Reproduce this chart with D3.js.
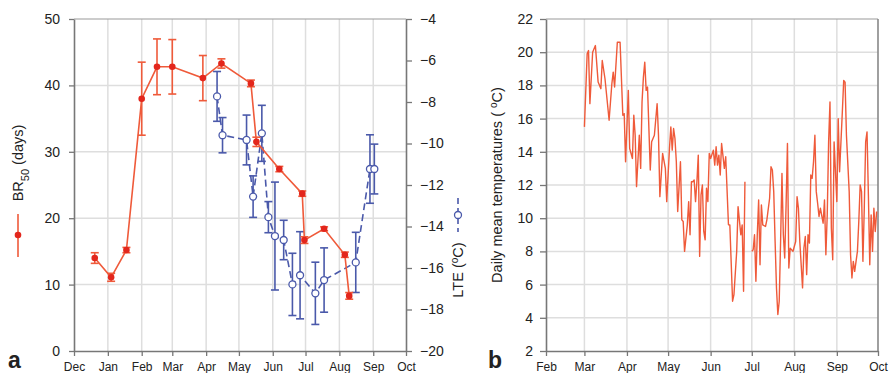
<!DOCTYPE html>
<html><head><meta charset="utf-8">
<script src="https://cdn.jsdelivr.net/npm/d3@7"></script>
<style>
body{margin:0;background:#fff}
svg{display:block}
text{font-family:"Liberation Sans",Arial,sans-serif;fill:#222}
</style>
</head><body>
<svg id="c" width="893" height="373"></svg>
<script>
// ---------- Panel a data ----------
const monthsA = ["Dec","Jan","Feb","Mar","Apr","May","Jun","Jul","Aug","Sep","Oct"];
const brDates = ["2010-12-20","2011-01-04","2011-01-18","2011-02-01","2011-02-15","2011-03-01","2011-03-29","2011-04-15","2011-05-12","2011-05-17","2011-06-07","2011-06-28","2011-06-30","2011-07-18","2011-08-06","2011-08-10"];
const brValues = [14.0,11.1,15.2,38.0,42.8,42.8,41.1,43.3,40.3,31.5,27.4,23.7,16.7,18.4,14.5,8.3];
const brErrors = [0.8,0.6,0.4,5.5,4.2,4.1,3.4,0.7,0.5,0.7,0.4,0.4,0.5,0.3,0.4,0.5];
const lteDates = ["2011-04-11","2011-04-16","2011-05-08","2011-05-14","2011-05-22","2011-05-28","2011-06-03","2011-06-11","2011-06-19","2011-06-26","2011-07-10","2011-07-18","2011-08-16","2011-08-29","2011-09-02"];
const lteValues = [-7.73,-9.6,-9.83,-12.56,-9.51,-13.55,-14.46,-14.65,-16.79,-16.35,-17.22,-16.58,-15.73,-11.23,-11.23];
const lteErrors = [1.2,0.85,1.2,1.0,1.35,0.75,2.6,0.95,1.5,2.1,1.5,1.55,1.45,1.65,1.2];
const brTicks = [0,10,20,30,40,50];
const lteTicks = [-4,-6,-8,-10,-12,-14,-16,-18,-20];

// ---------- Panel b data ----------
const monthsB = ["Feb","Mar","Apr","May","Jun","Jul","Aug","Sep","Oct"];
const tempTicks = [2,4,6,8,10,12,14,16,18,20,22];
// days after 1 March
const tempDays = [0,2,3,4,6,8,10,12,13,15,18,20,21,22,24,26,28,29,30,32,33,35,36,37,38,40,41,42,43,44,45,46,48,49,50,51,53,54,55,57,59,60,62,63,64,65,66,67,68,70,71,72,73,75,76,77,78,79,80,81,82,83,84,85,86,87,88,89,90,91,92,94,95,96,97,98,99,100,102,103,105,106,108,109,111,112,114,115,116,117,119,122,123,124,125,126,127,128,129,130,132,133,135,136,137,138,139,140,141,142,143,144,145,146,147,148,149,150,152,154,155,156,157,159,160,161,162,163,164,165,166,167,168,169,170,171,172,174,175,176,177,178,179,180,181,182,184,185,186,187,188,189,190,191,193,194,195,196,197,199,200,201,202,203,204,205,206,207,208,209,210,211,212,213];
const tempValues = [15.5,19.9,20.1,16.9,20.0,20.4,18.2,17.8,19.5,18.4,15.9,18.1,18.8,17.9,20.6,20.6,16.2,16.3,13.4,17.7,14.2,13.6,16.2,15.0,11.9,15.0,13.0,17.0,18.5,19.4,17.7,17.9,12.9,14.6,14.8,15.0,16.9,15.0,11.3,13.9,13.0,11.0,14.2,15.5,14.1,15.4,14.8,13.4,10.4,13.4,9.9,9.8,8.0,9.6,11.0,9.0,12.2,12.2,12.3,11.0,12.2,13.8,7.7,11.4,12.0,9.2,8.7,11.8,11.0,13.9,13.6,14.1,13.2,14.3,13.2,13.8,12.6,14.5,13.0,13.7,9.6,9.6,5.0,5.4,8.0,10.7,9.0,9.6,5.6,12.2,null,8.0,8.1,9.0,6.2,9.0,11.1,7.2,10.8,9.6,9.5,9.9,11.2,13.1,12.9,11.6,8.6,5.8,4.2,5.0,8.6,12.7,9.0,7.6,10.8,14.5,7.0,8.2,8.0,8.6,11.3,10.6,8.6,5.8,8.2,8.9,6.6,9.0,8.5,12.6,12.4,13.4,15.0,11.6,10.9,10.1,10.6,9.7,11.1,7.8,10.2,14.6,17.0,9.4,7.5,14.6,11.0,16.0,12.8,14.6,16.4,18.3,18.2,15.0,11.6,7.8,6.4,7.4,6.8,8.0,9.8,12.0,11.6,7.4,10.6,14.6,15.2,11.4,7.2,10.2,8.0,10.6,9.2,10.4];

// ---------- styles ----------
const RED_LINE = "#ef5a3a", RED_DOT = "#e3261c", BLUE = "#4a59aa";
const GRID = "#dedede", AXIS = "#777";

const svg = d3.select("#c");
const parse = d3.utcParse("%Y-%m-%d");

// ================= Panel a =================
const startA = Date.UTC(2010,11,1);
const monthDatesA = monthsA.map((m,i)=>d3.utcMonth.offset(new Date(startA), i));
const xA = d3.scaleUtc().domain([monthDatesA[0], monthDatesA[monthDatesA.length-1]]).range([74,406]);
const yA = d3.scaleLinear().domain([0,50]).range([351,19]);
const yA2 = d3.scaleLinear().domain([-20,-4]).range([351,19]);

const gA = svg.append("g");
gA.append("g").selectAll("line").data(monthDatesA.slice(1,-1)).join("line")
  .attr("x1",d=>xA(d)).attr("x2",d=>xA(d)).attr("y1",yA(0)).attr("y2",yA(50))
  .attr("stroke",GRID).attr("stroke-width",1.5);
gA.append("g").selectAll("line").data(brTicks.slice(1,-1)).join("line")
  .attr("x1",xA.range()[0]).attr("x2",xA.range()[1]).attr("y1",d=>yA(d)).attr("y2",d=>yA(d))
  .attr("stroke",GRID).attr("stroke-width",1.5);
gA.append("line").attr("x1",xA.range()[0]).attr("x2",xA.range()[1]).attr("y1",yA(50)).attr("y2",yA(50))
  .attr("stroke","#999").attr("stroke-width",1.2);

function styleAxis(g, fs){
  g.select(".domain").attr("stroke",AXIS).attr("stroke-width",1.6);
  g.selectAll(".tick line").attr("stroke",AXIS).attr("stroke-width",1.3);
  g.selectAll(".tick text").attr("font-size",fs).attr("fill","#222")
   .attr("font-family",'"Liberation Sans",Arial,sans-serif');
}
const axBA = gA.append("g").attr("transform",`translate(0,${yA(0)})`)
  .call(d3.axisBottom(xA).tickValues(monthDatesA).tickFormat((d,i)=>monthsA[i]).tickSize(5).tickSizeOuter(0).tickPadding(6));
styleAxis(axBA, 12);
const axLA = gA.append("g").attr("transform",`translate(${xA.range()[0]},0)`)
  .call(d3.axisLeft(yA).tickValues(brTicks).tickSize(5).tickSizeOuter(0).tickPadding(9));
styleAxis(axLA, 14);
const axRA = gA.append("g").attr("transform",`translate(${xA.range()[1]},0)`)
  .call(d3.axisRight(yA2).tickValues(lteTicks).tickSize(6).tickSizeOuter(0).tickPadding(8));
styleAxis(axRA, 14);

// LTE series (blue)
const lteData = lteDates.map((d,i)=>({x:parse(d), v:lteValues[i], e:lteErrors[i]}));
gA.append("path").datum(lteData)
  .attr("d", d3.line().x(d=>xA(d.x)).y(d=>yA2(d.v)))
  .attr("fill","none").attr("stroke",BLUE).attr("stroke-width",1.6).attr("stroke-dasharray","7,4");
const eb2 = gA.append("g").attr("stroke",BLUE).attr("stroke-width",1.6);
lteData.forEach(d=>{
  const cx = xA(d.x), y1 = yA2(d.v-d.e), y2 = yA2(d.v+d.e);
  eb2.append("line").attr("x1",cx).attr("x2",cx).attr("y1",y1).attr("y2",y2);
  eb2.append("line").attr("x1",cx-4).attr("x2",cx+4).attr("y1",y1).attr("y2",y1);
  eb2.append("line").attr("x1",cx-4).attr("x2",cx+4).attr("y1",y2).attr("y2",y2);
});
gA.append("g").selectAll("circle").data(lteData).join("circle")
  .attr("cx",d=>xA(d.x)).attr("cy",d=>yA2(d.v)).attr("r",3.5)
  .attr("fill","#fff").attr("stroke",BLUE).attr("stroke-width",1.3);

// BR50 series (red)
const brData = brDates.map((d,i)=>({x:parse(d), v:brValues[i], e:brErrors[i]}));
gA.append("path").datum(brData)
  .attr("d", d3.line().x(d=>xA(d.x)).y(d=>yA(d.v)))
  .attr("fill","none").attr("stroke",RED_LINE).attr("stroke-width",1.6);
const eb1 = gA.append("g").attr("stroke",RED_LINE).attr("stroke-width",1.6);
brData.forEach(d=>{
  const cx = xA(d.x), y1 = yA(d.v-d.e), y2 = yA(d.v+d.e);
  eb1.append("line").attr("x1",cx).attr("x2",cx).attr("y1",y1).attr("y2",y2);
  eb1.append("line").attr("x1",cx-4).attr("x2",cx+4).attr("y1",y1).attr("y2",y1);
  eb1.append("line").attr("x1",cx-4).attr("x2",cx+4).attr("y1",y2).attr("y2",y2);
});
gA.append("g").selectAll("circle").data(brData).join("circle")
  .attr("cx",d=>xA(d.x)).attr("cy",d=>yA(d.v)).attr("r",3.3).attr("fill",RED_DOT);

// Left axis title with legend glyph
const tl = gA.append("text").attr("transform","translate(23,163) rotate(-90)")
  .attr("text-anchor","middle").attr("font-size",14.5);
tl.append("tspan").text("BR");
tl.append("tspan").attr("baseline-shift","sub").attr("font-size",11).text("50");
tl.append("tspan").text(" (days)");
gA.append("line").attr("x1",18).attr("x2",18).attr("y1",214).attr("y2",257).attr("stroke",RED_LINE).attr("stroke-width",1.6);
gA.append("circle").attr("cx",18).attr("cy",235).attr("r",3.3).attr("fill",RED_DOT);

// Right axis title with legend glyph
const tr = gA.append("text").attr("transform","translate(463,270) rotate(-90)")
  .attr("text-anchor","middle").attr("font-size",14.5);
tr.append("tspan").text("LTE (");
tr.append("tspan").attr("baseline-shift","super").attr("font-size",10).text("o");
tr.append("tspan").text("C)");
gA.append("line").attr("x1",458).attr("x2",458).attr("y1",198).attr("y2",232)
  .attr("stroke",BLUE).attr("stroke-width",1.6).attr("stroke-dasharray","6,4");
gA.append("circle").attr("cx",458).attr("cy",215).attr("r",3.5).attr("fill","#fff").attr("stroke",BLUE).attr("stroke-width",1.3);

svg.append("text").attr("x",8).attr("y",368).attr("font-size",23).attr("font-weight","bold").text("a");

// ================= Panel b =================
const startB = Date.UTC(2011,1,1);
const monthDatesB = monthsB.map((m,i)=>d3.utcMonth.offset(new Date(startB), i));
const xB = d3.scaleUtc().domain([monthDatesB[0], monthDatesB[monthDatesB.length-1]]).range([546,878]);
const yB = d3.scaleLinear().domain([2,22]).range([351,19]);
const gB = svg.append("g");
gB.append("g").selectAll("line").data(monthDatesB.slice(1,-1)).join("line")
  .attr("x1",d=>xB(d)).attr("x2",d=>xB(d)).attr("y1",yB(2)).attr("y2",yB(22))
  .attr("stroke",GRID).attr("stroke-width",1.5);
gB.append("g").selectAll("line").data(tempTicks.slice(1,-1)).join("line")
  .attr("x1",xB.range()[0]).attr("x2",xB.range()[1]).attr("y1",d=>yB(d)).attr("y2",d=>yB(d))
  .attr("stroke",GRID).attr("stroke-width",1.5);
gB.append("line").attr("x1",xB.range()[0]).attr("x2",xB.range()[1]).attr("y1",yB(22)).attr("y2",yB(22))
  .attr("stroke","#999").attr("stroke-width",1.2);
gB.append("line").attr("x1",xB.range()[1]).attr("x2",xB.range()[1]).attr("y1",yB(22)).attr("y2",yB(2))
  .attr("stroke","#888").attr("stroke-width",1.6);

const axBB = gB.append("g").attr("transform",`translate(0,${yB(2)})`)
  .call(d3.axisBottom(xB).tickValues(monthDatesB).tickFormat((d,i)=>monthsB[i]).tickSize(5).tickSizeOuter(0).tickPadding(6));
styleAxis(axBB, 12);
const axLB = gB.append("g").attr("transform",`translate(${xB.range()[0]},0)`)
  .call(d3.axisLeft(yB).tickValues(tempTicks).tickSize(6).tickSizeOuter(0).tickPadding(7));
styleAxis(axLB, 14);

const mar1 = Date.UTC(2011,2,1);
const tempData = tempDays.map((d,i)=>({x:d3.utcDay.offset(new Date(mar1), d), v:tempValues[i]}));
gB.append("path").datum(tempData)
  .attr("d", d3.line().defined(d=>d.v!==null).x(d=>xB(d.x)).y(d=>yB(d.v)))
  .attr("fill","none").attr("stroke",RED_LINE).attr("stroke-width",1.4).attr("stroke-linejoin","round");

const tb = gB.append("text").attr("transform","translate(502,185) rotate(-90)")
  .attr("text-anchor","middle").attr("font-size",14.5);
tb.append("tspan").text("Daily mean temperatures ( ");
tb.append("tspan").attr("baseline-shift","super").attr("font-size",10).text("o");
tb.append("tspan").text("C)");

svg.append("text").attr("x",488).attr("y",368).attr("font-size",23).attr("font-weight","bold").text("b");
</script>
</body></html>
